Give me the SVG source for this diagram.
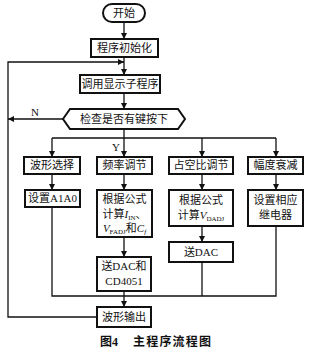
<svg xmlns="http://www.w3.org/2000/svg" width="310" height="350" viewBox="0 0 310 350">
<defs>
<marker id="arr" viewBox="0 0 10 10" refX="10" refY="5" markerWidth="6" markerHeight="6" orient="auto" markerUnits="userSpaceOnUse">
<path d="M0,0 L10,5 L0,10 z" fill="#111"/>
</marker>
<style>
.box{fill:#fff;stroke:#111;stroke-width:2}
.ln{fill:none;stroke:#111;stroke-width:1.3}
.t{font-family:"Liberation Serif","Noto Sans CJK SC",serif;font-size:11px;fill:#111;text-anchor:middle}
.s{font-size:7px}
.i{font-style:italic}
.cap{font-family:"Liberation Serif","Noto Sans CJK SC",serif;font-size:12px;font-weight:bold;fill:#111}
</style>
</defs>
<rect width="310" height="350" fill="#fff"/>
<g id="connectors">
<path class="ln" d="M124,22 V39" marker-end="url(#arr)"/>
<path class="ln" d="M124,57 V75" marker-end="url(#arr)"/>
<path class="ln" d="M124,93 V109" marker-end="url(#arr)"/>
<path class="ln" d="M63,119 H8" marker-end="url(#arr)"/>
<path class="ln" d="M97,317 H8 V62 H124" marker-end="url(#arr)"/>
<path class="ln" d="M124,129 V138"/>
<path class="ln" d="M52,138 H276"/>
<path class="ln" d="M52,138 V157" marker-end="url(#arr)"/>
<path class="ln" d="M124,138 V157" marker-end="url(#arr)"/>
<path class="ln" d="M202,138 V157" marker-end="url(#arr)"/>
<path class="ln" d="M276,138 V157" marker-end="url(#arr)"/>
<path class="ln" d="M52,174 V190" marker-end="url(#arr)"/>
<path class="ln" d="M124,174 V190" marker-end="url(#arr)"/>
<path class="ln" d="M202,174 V190" marker-end="url(#arr)"/>
<path class="ln" d="M276,174 V190" marker-end="url(#arr)"/>
<path class="ln" d="M124,237 V257" marker-end="url(#arr)"/>
<path class="ln" d="M202,226 V242" marker-end="url(#arr)"/>
<path class="ln" d="M52,207 V296 H276 V226"/>
<path class="ln" d="M202,262 V296"/>
<path class="ln" d="M124,291 V307" marker-end="url(#arr)"/>
<text class="t" x="35" y="116">N</text>
<text class="t" x="116" y="151">Y</text>
</g>
<g id="start"><rect class="box" x="103" y="4" width="42" height="18" rx="9"/><text class="t" x="124" y="17">开始</text></g>
<g id="init"><rect class="box" x="91" y="39" width="67" height="18"/><text class="t" x="124.5" y="52">程序初始化</text></g>
<g id="display"><rect class="box" x="80" y="75" width="80" height="18"/><text class="t" x="120" y="88">调用显示子程序</text></g>
<g id="check"><polygon class="box" points="63,119 70,109 178,109 185,119 178,129 70,129"/><text class="t" x="124" y="123">检查是否有键按下</text></g>
<g id="wave-select"><rect class="box" x="24" y="157" width="56" height="17"/><text class="t" x="52" y="169">波形选择</text></g>
<g id="freq"><rect class="box" x="97" y="157" width="55" height="17"/><text class="t" x="124.5" y="169">频率调节</text></g>
<g id="duty"><rect class="box" x="169" y="157" width="64" height="17"/><text class="t" x="201" y="169">占空比调节</text></g>
<g id="amp"><rect class="box" x="248" y="157" width="55" height="17"/><text class="t" x="275.5" y="169">幅度衰减</text></g>
<g id="set-a1a0"><rect class="box" x="25" y="190" width="55" height="17"/><text class="t" x="52.5" y="202">设置A1A0</text></g>
<g id="freq-calc"><rect class="box" x="97" y="190" width="55" height="47"/>
<text class="t" x="124.5" y="203">根据公式</text>
<text class="t" x="124.5" y="218">计算<tspan class="i">I</tspan><tspan class="s" dy="2">IN</tspan><tspan dy="-2">、</tspan></text>
<text class="t" x="124.5" y="232"><tspan class="i">V</tspan><tspan class="s" dy="2">FADJ</tspan><tspan dy="-2">和</tspan><tspan class="i">C</tspan><tspan class="s i" dy="2">f</tspan></text>
</g>
<g id="duty-calc"><rect class="box" x="169" y="190" width="64" height="36"/>
<text class="t" x="201" y="204">根据公式</text>
<text class="t" x="201" y="219">计算<tspan class="i">V</tspan><tspan class="s" dy="2">DADJ</tspan></text>
</g>
<g id="relay"><rect class="box" x="248" y="190" width="55" height="36"/>
<text class="t" x="275.5" y="204">设置相应</text>
<text class="t" x="275.5" y="219">继电器</text>
</g>
<g id="send-dac"><rect class="box" x="169" y="242" width="64" height="20"/><text class="t" x="201" y="256">送DAC</text></g>
<g id="send-dac-cd"><rect class="box" x="97" y="257" width="54" height="34"/>
<text class="t" x="124" y="270">送DAC和</text>
<text class="t" x="124" y="285">CD4051</text>
</g>
<g id="output"><rect class="box" x="97" y="307" width="54" height="20"/><text class="t" x="124" y="321">波形输出</text></g>
<text class="cap" x="100" y="346">图4<tspan x="133" letter-spacing="1.2">主程序流程图</tspan></text>
</svg>
